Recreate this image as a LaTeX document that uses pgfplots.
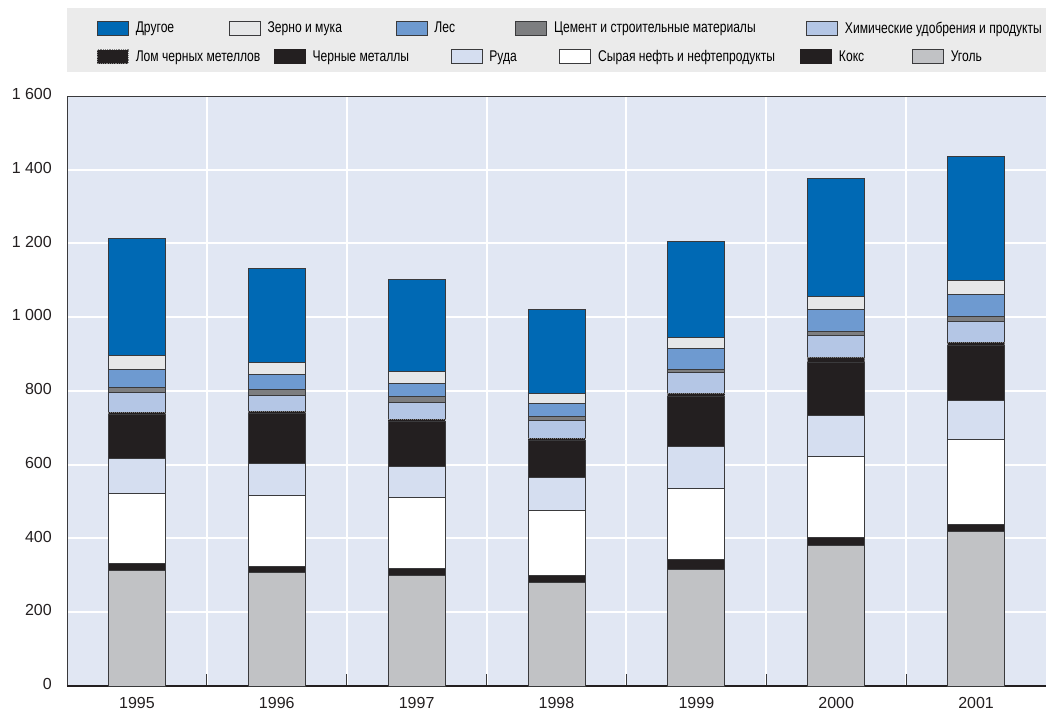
\documentclass[border=0pt]{standalone}
\usepackage{fontspec}
\setmainfont{Liberation Sans}
\newfontfamily\condfont[FakeStretch=0.78]{Liberation Sans}
\usepackage{pgfplots}
\usepackage{pgfplotstable}
\pgfplotsset{compat=1.18}

\definecolor{cOther}{HTML}{0069B4}
\definecolor{cGrain}{HTML}{E6E7E8}
\definecolor{cForest}{HTML}{6E9AD0}
\definecolor{cCement}{HTML}{7D7E80}
\definecolor{cChem}{HTML}{B4C6E5}
\definecolor{cDark}{HTML}{231F20}
\definecolor{cOre}{HTML}{D5DEF0}
\definecolor{cCoal}{HTML}{C1C2C5}
\definecolor{cBg}{HTML}{E1E7F3}
\definecolor{cLeg}{HTML}{EBEBEB}
\definecolor{cLine}{HTML}{3A3A3C}

\pgfplotstableread{
x coal coke crude ore ferrous scrap chem cement forest grain other
0 312 20 189 95 119 8 52 14 50 37 318
1 308 16 192 87 135 7 44 14 41 34 254
2 299 20 193 82 124 6 46 15 36 32 250
3 280 21 175 90 100 6 47 11 36 27 228
4 316 26 193 115 135 8 56 10 55 32 259
5 381 21 220 111 145 12 61 10 59 37 319
6 418 21 229 107 148 9 56 15 59 37 337
}\datatable

\pgfplotsset{
  sq/.style={legend image code/.code={\draw[##1] (0pt,-7pt) rectangle (31pt,7pt);}},
  legax/.style={at={(0pt,0pt)}, anchor=south west, scale only axis,
    width=979pt, height=590pt, hide axis, xmin=0, xmax=1, ymin=0, ymax=1,
    legend columns=-1, legend cell align=left,
    legend style={anchor=west, draw=none, fill=none, inner sep=0pt, outer sep=0pt,
      font=\condfont\fontsize{15.5}{18}\selectfont,
      nodes={inner sep=0pt, text depth=0.1em},
      /tikz/every odd column/.append style={column sep=7pt},
      /tikz/every even column/.append style={column sep=0pt}}},
}

\begin{document}
\begin{tikzpicture}
\path[use as bounding box] (-67pt,-26pt) rectangle (979pt,686pt);
\fill[cLeg] (0pt,614pt) rectangle (979pt,678pt);
\begin{axis}[
  at={(0pt,0pt)}, anchor=south west, scale only axis,
  width=979pt, height=590pt,
  ybar stacked, bar width=57pt,
  xmin=-0.5, xmax=6.5, ymin=0, ymax=1600,
  axis background/.style={fill=cBg},
  axis line style={draw=cLine, line width=0.8pt},
  xtick={0,1,2,3,4,5,6},
  xticklabels={1995,1996,1997,1998,1999,2000,2001},
  minor xtick={0.5,1.5,2.5,3.5,4.5,5.5},
  ytick={0,200,400,600,800,1000,1200,1400,1600},
  xtick pos=lower, ytick pos=left,
  tick align=inside,
  major tick length=0pt, minor tick length=12pt,
  minor tick style={draw=cLine, line width=1pt},
  ymajorgrids=true, xminorgrids=true,
  major grid style={draw=white, line width=2pt},
  minor grid style={draw=white, line width=2pt},
  /pgf/number format/assume math mode=true,
  /pgf/number format/1000 sep={\ },
  tick label style={font=\fontsize{16}{19}\selectfont, text=cDark},
  yticklabel style={inner sep=0pt, anchor=east, xshift=-15pt, yshift=2pt},
  xticklabel style={inner sep=0pt, anchor=north, yshift=-11pt},
  every axis plot/.append style={draw=cLine, line width=1pt},
]
\addplot[fill=cCoal] table[x=x,y=coal]{\datatable};
\addplot[fill=cDark] table[x=x,y=coke]{\datatable};
\addplot[fill=white] table[x=x,y=crude]{\datatable};
\addplot[fill=cOre] table[x=x,y=ore]{\datatable};
\addplot[fill=cDark] table[x=x,y=ferrous]{\datatable};
\addplot[fill=cDark, draw=gray, densely dotted] table[x=x,y=scrap]{\datatable};
\addplot[fill=cChem] table[x=x,y=chem]{\datatable};
\addplot[fill=cCement] table[x=x,y=cement]{\datatable};
\addplot[fill=cForest] table[x=x,y=forest]{\datatable};
\addplot[fill=cGrain] table[x=x,y=grain]{\datatable};
\addplot[fill=cOther] table[x=x,y=other]{\datatable};
\draw[cDark, line width=2pt] (rel axis cs:0,0) -- (rel axis cs:1,0);
\end{axis}

\begin{axis}[legax, legend style={at={(0.03064,1.1153)}}]
\addlegendimage{sq, fill=cOther, draw=cLine, line width=0.8pt}
\addlegendentry{\makebox[93pt][l]{Другое}}
\addlegendimage{sq, fill=cGrain, draw=cLine, line width=0.8pt}
\addlegendentry{\makebox[128pt][l]{Зерно и мука}}
\addlegendimage{sq, fill=cForest, draw=cLine, line width=0.8pt}
\addlegendentry{\makebox[81pt][l]{Лес}}
\addlegendimage{sq, fill=cCement, draw=cLine, line width=0.8pt}
\addlegendentry{\makebox[252pt][l]{Цемент и строительные материалы}}
\addlegendimage{sq, fill=cChem, draw=cLine, line width=0.8pt}
\addlegendentry{Химические удобрения и продукты}
\end{axis}

\begin{axis}[legax, legend style={at={(0.03064,1.0669)}}]
\addlegendimage{sq, fill=cDark, draw=gray, densely dotted, line width=0.8pt}
\addlegendentry{\makebox[138pt][l]{Лом черных метеллов}}
\addlegendimage{sq, fill=cDark, draw=cDark, line width=0.8pt}
\addlegendentry{\makebox[138pt][l]{Черные металлы}}
\addlegendimage{sq, fill=cOre, draw=cLine, line width=0.8pt}
\addlegendentry{\makebox[70pt][l]{Руда}}
\addlegendimage{sq, fill=white, draw=cLine, line width=0.8pt}
\addlegendentry{\makebox[202pt][l]{Сырая нефть и нефтепродукты}}
\addlegendimage{sq, fill=cDark, draw=cDark, line width=0.8pt}
\addlegendentry{\makebox[73pt][l]{Кокс}}
\addlegendimage{sq, fill=cCoal, draw=cLine, line width=0.8pt}
\addlegendentry{Уголь}
\end{axis}
\end{tikzpicture}
\end{document}
